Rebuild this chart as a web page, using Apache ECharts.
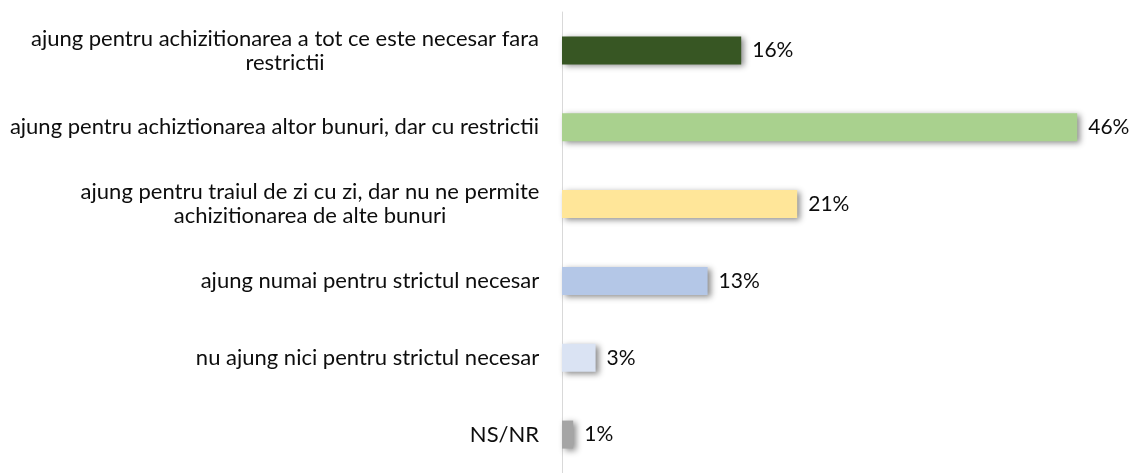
<!DOCTYPE html>
<html>
<head>
<meta charset="utf-8">
<script src="https://cdn.jsdelivr.net/npm/echarts@6/dist/echarts.min.js"></script>
<style>
  html, body { margin: 0; padding: 0; background: #fff; }
  #chart { width: 1130px; height: 473px; }
</style>
</head>
<body>
<div id="chart"></div>
<script>
// categories, top to bottom
const categories = [
  "ajung pentru achizitionarea a tot ce este necesar fara\nrestrictii",
  "ajung pentru achiztionarea altor bunuri, dar cu restrictii",
  "ajung pentru traiul de zi cu zi, dar nu ne permite\nachizitionarea de alte bunuri",
  "ajung numai pentru strictul necesar",
  "nu ajung nici pentru strictul necesar",
  "NS/NR"
];
const values = [16, 46, 21, 13, 3, 1];
const barColors = ["#375623", "#A9D18E", "#FFE699", "#B4C7E7", "#DAE3F3", "#A5A5A5"];

const FONT = "Lato";
const FSIZE = 22;

// width of the widest line so wrapped lines get centred on each other
const ctx = document.createElement("canvas").getContext("2d");
ctx.font = FSIZE + "px '" + FONT + "'";
function lineWidth(s) {
  return Math.max.apply(null, s.split("\n").map((l) => ctx.measureText(l).width));
}

const catData = categories.map((c) => ({
  value: c,
  textStyle: {
    rich: {
      c: { width: Math.ceil(lineWidth(c)) + 1, align: "center", fontFamily: FONT, fontSize: FSIZE, color: "#0D0D0D", lineHeight: 24 },
    },
  },
}));

const dom = echarts.init(document.getElementById("chart"));
const options = {
  animation: false,
  grid: {
    left: 562,
    right: 8,
    top: 12,
    height: 467,
    containLabel: false,
  },
  xAxis: {
    type: "value",
    min: 0,
    max: 50,
    show: false,
  },
  yAxis: {
    type: "category",
    inverse: true,
    data: catData,
    axisLine: { show: true, lineStyle: { color: "#D9D9D9", width: 1 } },
    axisTick: { show: false },
    axisLabel: {
      margin: 22,
      align: "right",
      formatter: (v) => v.split("\n").map((l) => "{c|" + l + "}").join("\n"),
    },
  },
  series: [
    {
      type: "bar",
      barWidth: 28,
      data: values.map((v, i) => ({
        value: v,
        itemStyle: { color: barColors[i] },
      })),
      itemStyle: {
        shadowColor: "rgba(0,0,0,0.45)",
        shadowBlur: 6,
        shadowOffsetX: 3,
        shadowOffsetY: 2,
      },
      label: {
        show: true,
        position: "right",
        distance: 11,
        formatter: "{c}%",
        fontFamily: FONT,
        fontSize: 21,
        color: "#0D0D0D",
      },
    },
  ],
};
dom.setOption(options);
</script>
</body>
</html>
